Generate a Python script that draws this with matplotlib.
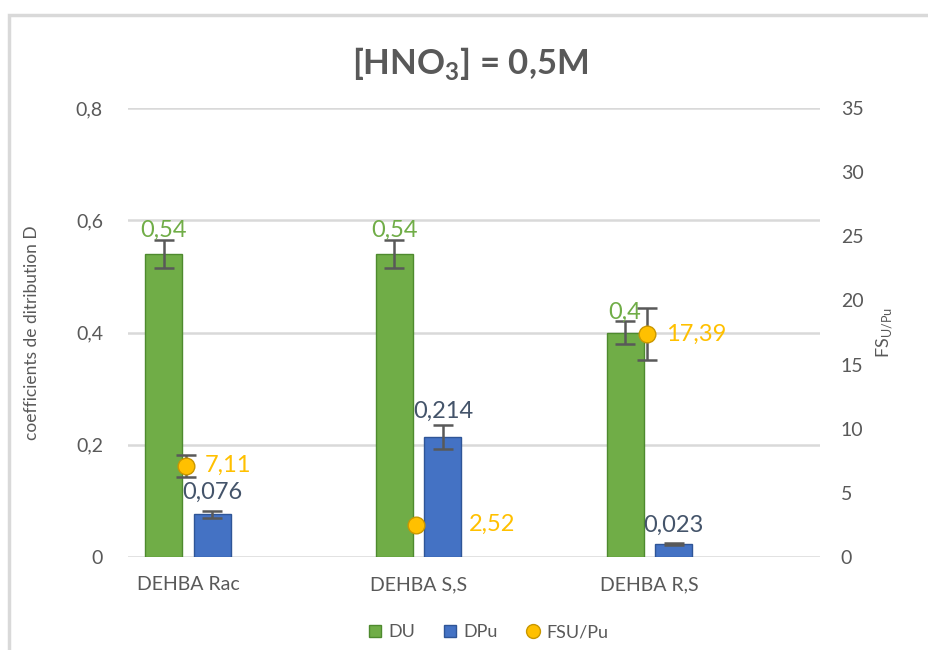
import numpy as np
import matplotlib.pyplot as plt
from matplotlib.ticker import FuncFormatter
from matplotlib.lines import Line2D
from matplotlib.patches import Rectangle

plt.rcParams['font.family'] = ['Lato', 'DejaVu Sans']
plt.rcParams['mathtext.fontset'] = 'custom'
plt.rcParams['mathtext.rm'] = 'Lato'
plt.rcParams['mathtext.bf'] = 'Lato:bold'

# data
categories = ["DEHBA Rac", "DEHBA S,S", "DEHBA R,S"]
du = [0.54, 0.54, 0.40]
du_err = [0.025, 0.025, 0.02]
du_labels = ["0,54", "0,54", "0,4"]
dpu = [0.076, 0.214, 0.023]
dpu_err = [0.006, 0.021, 0.002]
dpu_labels = ["0,076", "0,214", "0,023"]
fs = [7.11, 2.52, 17.39]
fs_err = [0.85, 0.0, 2.0]
fs_labels = ["7,11", "2,52", "17,39"]

green = "#70AD47"
blue = "#4472C4"
gold = "#FFC000"
grey = "#595959"

fig = plt.figure(figsize=(9.29, 6.5), dpi=100)
ax = fig.add_axes([128 / 929, 1 - 557 / 650, 692 / 929, 449 / 650])
ax2 = ax.twinx()

# chart border
fig.patches.append(Rectangle((9 / 929, -0.1), 1.2, 1 - 15 / 650 + 0.1,
                             transform=fig.transFigure, fill=False,
                             edgecolor="#D9D9D9", lw=2.5))

x = np.arange(len(categories))
w = 0.16
off = 0.105

ax.bar(x - off, du, w, color=green, edgecolor="#4E8A2E", lw=1, zorder=3)
ax.bar(x + off, dpu, w, color=blue, edgecolor="#2F5597", lw=1, zorder=3)
ax.errorbar(x - off, du, yerr=du_err, fmt="none", ecolor=grey, elinewidth=1.8,
            capsize=7, capthick=1.8, zorder=4)
ax.errorbar(x + off, dpu, yerr=dpu_err, fmt="none", ecolor=grey, elinewidth=1.8,
            capsize=7, capthick=1.8, zorder=4)

for xi, v, e, t in zip(x - off, du, du_err, du_labels):
    ax.annotate(t, (xi, v + e), xytext=(0, -1), textcoords="offset points",
                ha="center", va="bottom", color=green, fontsize=17, zorder=5)
dpu_dy = [6, 2, 5]
for xi, v, e, t, dy in zip(x + off, dpu, dpu_err, dpu_labels, dpu_dy):
    ax.annotate(t, (xi, v + e), xytext=(0, dy), textcoords="offset points",
                ha="center", va="bottom", color="#44546A", fontsize=17, zorder=5)

ax2.errorbar(x - 0.01, fs, yerr=[e if e > 0 else np.nan for e in fs_err], fmt="none",
             ecolor=grey, elinewidth=1.8, capsize=7, capthick=1.8, zorder=4)
ax2.plot(x - 0.01, fs, "o", ms=12, color=gold, mec="#C99700", mew=1, zorder=5)
fs_dx = [14, 38, 14]
for xi, v, t, dx in zip(x - 0.01, fs, fs_labels, fs_dx):
    ax2.annotate(t, (xi, v), xytext=(dx, 0), textcoords="offset points",
                 ha="left", va="center", color=gold, fontsize=17, zorder=6)

ax.set_xlim(-0.26, 2.74)
ax.set_ylim(0, 0.8)
ax2.set_ylim(0, 35)
ax.set_yticks(np.arange(0, 0.81, 0.2))
ax2.set_yticks(np.arange(0, 36, 5))
ax.yaxis.set_major_formatter(FuncFormatter(lambda v, p: "0" if v == 0 else f"{v:.1f}".replace(".", ",")))
ax.set_xticks(x)
ax.set_xticklabels(categories)

ax.grid(axis="y", color="#D9D9D9", lw=1.8, zorder=0)
ax.set_axisbelow(True)
for a in (ax, ax2):
    for s in a.spines.values():
        s.set_visible(False)
    a.tick_params(length=0, colors=grey, labelsize=14)
ax.tick_params(axis="y", pad=18)
ax.tick_params(axis="x", pad=14)
ax2.tick_params(axis="y", pad=15)

ax.set_ylabel("coefficients de ditribution D", color=grey, fontsize=12.5, labelpad=26)
ax2.set_ylabel("FS$_{\\mathregular{U/Pu}}$", color=grey, fontsize=13, labelpad=8)

fig.text(0.506, 1 - 64 / 650, "[HNO$_\\mathbf{3}$] = 0,5M", ha="center", va="center",
         fontsize=25, fontweight="bold", color=grey)

handles = [Line2D([], [], ls="", marker="s", ms=9, color=green, mec="#4E8A2E"),
           Line2D([], [], ls="", marker="s", ms=9, color=blue, mec="#2F5597"),
           Line2D([], [], ls="", marker="o", ms=10, color=gold, mec="#C99700")]
fig.legend(handles, ["DU", "DPu", "FSU/Pu"], loc="center", bbox_to_anchor=(0.522, 1 - 632 / 650),
           ncol=3, frameon=False, fontsize=13, handletextpad=0.0, columnspacing=1.2,
           handlelength=1.5, labelcolor=grey)

fig.savefig("out.png", dpi=100)
